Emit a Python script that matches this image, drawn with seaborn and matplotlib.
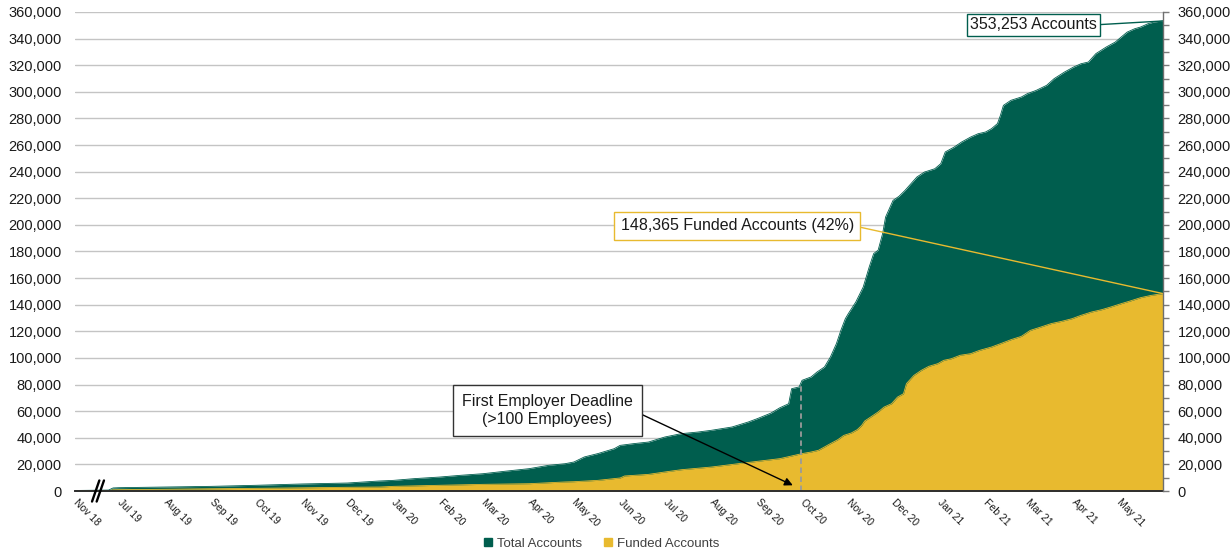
import numpy as np
import pandas as pd
import matplotlib
matplotlib.use("Agg")
import matplotlib.pyplot as plt
from matplotlib.ticker import FuncFormatter, MultipleLocator
from matplotlib.transforms import blended_transform_factory
from matplotlib.lines import Line2D
import seaborn as sns

# ---------------------------------------------------------------- data
pilot_label = "Nov 18"

total_dates = [
    "2018-11-01", "2019-06-24", "2019-06-27", "2019-07-01", "2019-08-01",
    "2019-09-01", "2019-10-01", "2019-11-01", "2019-12-01", "2019-12-22",
    "2020-01-01", "2020-01-15", "2020-02-01", "2020-02-15", "2020-03-01",
    "2020-03-17", "2020-04-01", "2020-04-14", "2020-04-25", "2020-05-01",
    "2020-05-08", "2020-05-17", "2020-05-28", "2020-06-01", "2020-06-10",
    "2020-06-20", "2020-07-01", "2020-07-12", "2020-07-23", "2020-08-01",
    "2020-08-15", "2020-08-26", "2020-09-01", "2020-09-10", "2020-09-16",
    "2020-09-22", "2020-09-24", "2020-09-29", "2020-10-01", "2020-10-07",
    "2020-10-11", "2020-10-16", "2020-10-20", "2020-10-24", "2020-10-27",
    "2020-10-30", "2020-11-01", "2020-11-06", "2020-11-11", "2020-11-15",
    "2020-11-18", "2020-11-21", "2020-11-24", "2020-11-26", "2020-11-27",
    "2020-11-30", "2020-12-01", "2020-12-05", "2020-12-09", "2020-12-12",
    "2020-12-17", "2020-12-22", "2020-12-29", "2021-01-02", "2021-01-05",
    "2021-01-11", "2021-01-16", "2021-01-22", "2021-01-27", "2021-02-01",
    "2021-02-05", "2021-02-09", "2021-02-11", "2021-02-13", "2021-02-18",
    "2021-02-25", "2021-03-01", "2021-03-07", "2021-03-14", "2021-03-19",
    "2021-03-26", "2021-04-01", "2021-04-06", "2021-04-11", "2021-04-16",
    "2021-04-23", "2021-04-29", "2021-05-03", "2021-05-07", "2021-05-12",
    "2021-05-16", "2021-05-21", "2021-05-25", "2021-05-31",
]
total_values = [
    400, 700, 2300, 2500, 3000,
    3500, 4300, 5300, 6000, 7500,
    8000, 9300, 10500, 11800, 13000,
    15000, 16800, 19300, 20500, 21800,
    25600, 28100, 31800, 34300, 35600,
    36800, 40600, 43100, 44300, 45600,
    48100, 51900, 54400, 58500, 62500,
    65600, 76900, 78200, 83200, 85700,
    89400, 93200, 100700, 110700, 120700,
    129500, 133300, 142000, 153300, 168300,
    178400, 181000, 193400, 205900, 208400,
    215900, 218400, 221500, 225900, 229700,
    236000, 239700, 242200, 246000, 254800,
    258500, 262300, 266000, 268500, 269800,
    272300, 276100, 282300, 289800, 293600,
    296100, 298600, 301100, 304900, 309900,
    314900, 318600, 321100, 322400, 328700,
    333700, 337400, 341200, 344900, 347400,
    348700, 351200, 352500, 353253,
]

funded_dates = [
    "2018-11-01", "2019-06-24", "2019-06-27", "2019-07-01", "2019-08-01",
    "2019-09-01", "2019-10-01", "2019-11-01", "2019-12-01", "2019-12-23",
    "2020-01-01", "2020-02-01", "2020-03-01", "2020-04-01", "2020-04-25",
    "2020-05-01", "2020-05-17", "2020-06-01", "2020-06-04", "2020-06-20",
    "2020-07-01", "2020-07-12", "2020-08-01", "2020-08-14", "2020-09-01",
    "2020-09-16", "2020-09-29", "2020-10-01", "2020-10-07", "2020-10-12",
    "2020-10-16", "2020-10-20", "2020-10-25", "2020-10-29", "2020-11-03",
    "2020-11-07", "2020-11-10", "2020-11-12", "2020-11-16", "2020-11-21",
    "2020-11-25", "2020-11-30", "2020-12-04", "2020-12-08", "2020-12-10",
    "2020-12-12", "2020-12-15", "2020-12-20", "2020-12-25", "2020-12-31",
    "2021-01-04", "2021-01-09", "2021-01-15", "2021-01-22", "2021-01-28",
    "2021-02-05", "2021-02-11", "2021-02-18", "2021-02-25", "2021-03-03",
    "2021-03-10", "2021-03-17", "2021-03-24", "2021-03-31", "2021-04-06",
    "2021-04-13", "2021-04-20", "2021-04-26", "2021-05-03", "2021-05-09",
    "2021-05-16", "2021-05-23", "2021-05-31",
]
funded_values = [
    100, 200, 900, 1000, 1300,
    1700, 2000, 2400, 2800, 3000,
    3500, 4300, 5000, 5500, 6800,
    7000, 8000, 9800, 11300, 12500,
    14300, 16000, 18000, 19800, 22300,
    24300, 27600, 28100, 29300, 30600,
    33100, 35600, 38600, 41800, 43600,
    46100, 49300, 52600, 55600, 59400,
    63100, 65600, 70600, 73100, 80700,
    83200, 86900, 90700, 93700, 95700,
    98200, 99400, 102000, 103200, 105700,
    108200, 110700, 113700, 116200, 120700,
    123200, 125800, 127500, 129500, 132000,
    134500, 136300, 138300, 140800, 142800,
    145300, 147000, 148365,
]

month_ticks = [
    "2019-07-01", "2019-08-01", "2019-09-01", "2019-10-01", "2019-11-01",
    "2019-12-01", "2020-01-01", "2020-02-01", "2020-03-01", "2020-04-01",
    "2020-05-01", "2020-06-01", "2020-07-01", "2020-08-01", "2020-09-01",
    "2020-10-01", "2020-11-01", "2020-12-01", "2021-01-01", "2021-02-01",
    "2021-03-01", "2021-04-01", "2021-05-01",
]
month_labels = [
    "Jul 19", "Aug 19", "Sep 19", "Oct 19", "Nov 19", "Dec 19", "Jan 20",
    "Feb 20", "Mar 20", "Apr 20", "May 20", "Jun 20", "Jul 20", "Aug 20",
    "Sep 20", "Oct 20", "Nov 20", "Dec 20", "Jan 21", "Feb 21", "Mar 21",
    "Apr 21", "May 21",
]
deadline_date = "2020-09-30"
deadline_text = "First Employer Deadline\n(>100 Employees)"

# ---------------------------------------------------------------- style
GREEN = "#005E4E"
GOLD = "#E8BA2F"

sns.set_theme(style="white")
plt.rcParams["font.family"] = ["Liberation Sans", "DejaVu Sans"]

# Broken date axis: the launch month sits just left of the break,
# everything from mid-2019 onward is on a continuous day scale.
origin = pd.Timestamp("2019-07-01")
break_start = pd.Timestamp("2019-06-01")
pilot_pos = -29.5


def to_pos(d):
    d = pd.Timestamp(d)
    if d < break_start:
        return pilot_pos
    return float((d - origin).days)


tx = np.array([to_pos(d) for d in total_dates])
ty = np.array(total_values, dtype=float)
fx = np.array([to_pos(d) for d in funded_dates])
fy = np.array(funded_values, dtype=float)

fig = plt.figure(figsize=(12.3, 5.55), dpi=100)
ax = fig.add_axes([0.061, 0.1153, 0.9455 - 0.061, 0.9784 - 0.1153])

# areas
ax.fill_between(tx, ty, color=GREEN, lw=0, zorder=1)
sns.lineplot(x=tx, y=ty, ax=ax, color=GREEN, lw=0.6, estimator=None,
             sort=False, legend=False, zorder=1.1)
ax.fill_between(fx, fy, color=GOLD, lw=0, zorder=1.2)
sns.lineplot(x=fx, y=fy, ax=ax, color=GOLD, lw=0.6, estimator=None,
             sort=False, legend=False, zorder=1.3)

x_end = tx[-1]
ax.set_xlim(pilot_pos, x_end)
ax.set_ylim(0, 360000)

# grid & y axis (left)
ax.yaxis.set_major_locator(MultipleLocator(20000))
ax.yaxis.set_major_formatter(FuncFormatter(lambda v, p: f"{v:,.0f}"))
ax.grid(True, axis="y", color="#c4c4c4", lw=1)
ax.grid(False, axis="x")
ax.set_axisbelow(True)
ax.tick_params(axis="y", length=0, pad=9.5, labelsize=10.5,
               labelcolor="#1a1a1a")
for s in ("left", "top", "right"):
    ax.spines[s].set_visible(False)
ax.spines["bottom"].set_color("#2e2e2e")
ax.spines["bottom"].set_linewidth(1.4)
ax.spines["bottom"].set_zorder(4)

# x axis
xticks = [pilot_pos] + [to_pos(d) for d in month_ticks] + [x_end]
xlabels = [pilot_label] + month_labels + [""]
ax.set_xticks(xticks)
ax.set_xticklabels(xlabels, rotation=-45, ha="left", va="center",
                   rotation_mode="anchor")
ax.tick_params(axis="x", direction="inout", length=6, width=1,
               color="#2e2e2e", pad=4, labelsize=7.5, labelcolor="#1a1a1a")
ax.set_xlabel("")
ax.set_ylabel("")

# axis break marks
btr = blended_transform_factory(ax.transData, ax.transAxes)
for x0, x1 in ((-18.1, -13.2), (-15.0, -10.1)):
    ax.plot([x0, x1], [-0.022, 0.022], transform=btr, color="black",
            lw=1.7, clip_on=False, zorder=6)

# right-hand axis
rax = ax.twinx()
rax.set_ylim(ax.get_ylim())
rax.yaxis.set_major_locator(MultipleLocator(20000))
rax.yaxis.set_minor_locator(MultipleLocator(10000))
rax.yaxis.set_major_formatter(FuncFormatter(lambda v, p: f"{v:,.0f}"))
rax.tick_params(axis="y", which="both", direction="out", length=4,
                width=1, color="#7a7a7a", pad=6.5, labelsize=10.5,
                labelcolor="#1a1a1a")
for s in ("left", "top", "bottom"):
    rax.spines[s].set_visible(False)
rax.spines["right"].set_color("#6e6e6e")
rax.spines["right"].set_linewidth(1)
rax.grid(False)

# deadline marker
dpos = to_pos(deadline_date)
dtop = np.interp(dpos, tx, ty)
ax.vlines(dpos, 0, dtop, colors="#9a9a9a", linestyles=(0, (3, 2)),
          lw=1.3, zorder=3)

# callouts
ax.annotate(f"{total_values[-1]:,} Accounts",
            xy=(tx[-1], ty[-1]), xytext=(613.2, 350400),
            ha="center", va="center", fontsize=11.5, color="#1a1a1a",
            bbox=dict(boxstyle="square,pad=0.22", fc="white", ec=GREEN, lw=1),
            arrowprops=dict(arrowstyle="-", color=GREEN, lw=1,
                            relpos=(1, 0.5), shrinkA=0, shrinkB=0),
            zorder=5)

share = funded_values[-1] / total_values[-1]
ax.annotate(f"{funded_values[-1]:,} Funded Accounts ({share:.0%})",
            xy=(fx[-1], fy[-1]), xytext=(414.5, 199300),
            ha="center", va="center", fontsize=11.5, color="#1a1a1a",
            bbox=dict(boxstyle="square,pad=0.4", fc="white", ec=GOLD, lw=1),
            arrowprops=dict(arrowstyle="-", color=GOLD, lw=1,
                            relpos=(1, 0.5), shrinkA=0, shrinkB=0),
            zorder=5)

ax.annotate(deadline_text,
            xy=(451.8, 4300), xytext=(287.3, 60650),
            ha="center", va="center", fontsize=11.5, color="#1a1a1a",
            multialignment="center", linespacing=1.25,
            bbox=dict(boxstyle="square,pad=0.55", fc="white", ec="#333333",
                      lw=1),
            arrowprops=dict(arrowstyle="-|>", color="black", lw=1,
                            mutation_scale=12, relpos=(1, 0.5),
                            shrinkA=0, shrinkB=0),
            zorder=5)

# legend
handles = [
    Line2D([], [], marker="s", ls="", color=GREEN, markersize=6),
    Line2D([], [], marker="s", ls="", color=GOLD, markersize=6),
]
fig.legend(handles, ["Total Accounts", "Funded Accounts"], loc="center",
           bbox_to_anchor=(0.489, 0.02), ncol=2, frameon=False,
           fontsize=9.5, handlelength=0.7, handletextpad=0.35,
           columnspacing=1.6, labelcolor="#404040")

fig.savefig("out.png", dpi=100)
